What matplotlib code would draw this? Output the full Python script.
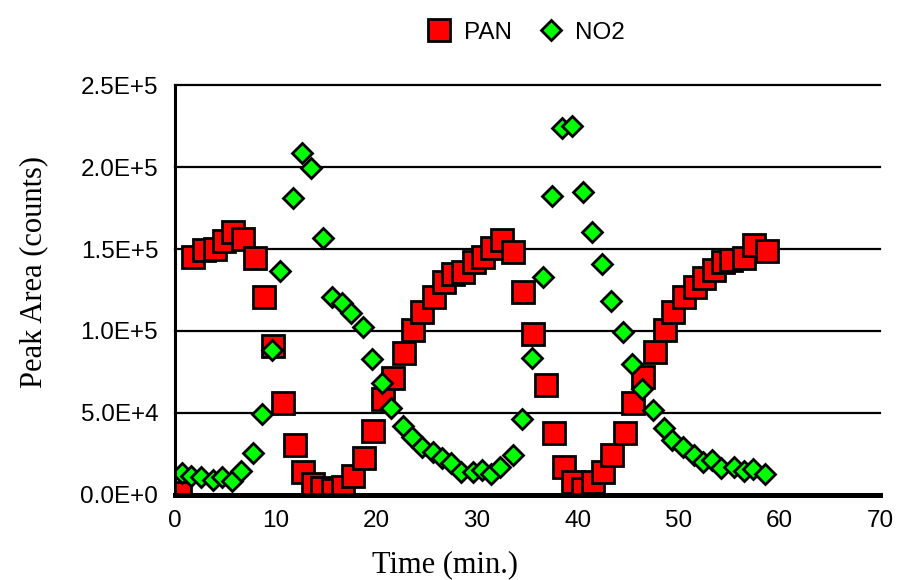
#!/usr/bin/env python3
"""PAN and NO2 peak areas versus time."""

import matplotlib
matplotlib.use("Agg")
import matplotlib.pyplot as plt

# PAN peak areas (counts) against time (min.)
pan_time = [0.50, 1.79, 2.88, 3.98, 4.87, 5.77, 6.76, 7.95, 8.85, 9.74,
            10.74, 11.93, 12.72, 13.72, 14.61, 15.71, 16.70, 17.69, 18.79, 19.68,
            20.68, 21.67, 22.76, 23.66, 24.55, 25.75, 26.74, 27.63, 28.63, 29.72,
            30.62, 31.51, 32.50, 33.60, 34.59, 35.59, 36.88, 37.67, 38.67, 39.56,
            40.56, 41.55, 42.54, 43.44, 44.73, 45.53, 46.52, 47.71, 48.61, 49.50,
            50.50, 51.59, 52.49, 53.48, 54.37, 55.17, 56.46, 57.46, 58.75]
pan_area = [1000, 145100, 149400, 150000, 154900, 160400, 156100, 144500, 120700, 90900,
            56100, 30500, 14000, 6700, 4300, 3000, 4900, 11600, 22600, 39000,
            58500, 71300, 86600, 100600, 111600, 120700, 129900, 134800, 136000, 142100,
            145100, 150600, 155500, 148200, 123800, 98200, 67100, 37800, 17100, 7900,
            3700, 7900, 14000, 24400, 37800, 56100, 72000, 87200, 100600, 111600,
            120700, 126800, 132300, 137200, 142100, 143300, 144500, 152400, 148800]

# NO2 peak areas (counts) against time (min.)
no2_time = [0.70, 1.59, 2.58, 3.78, 4.67, 5.67, 6.56, 7.75, 8.65, 9.64,
            10.44, 11.73, 12.62, 13.52, 14.71, 15.61, 16.60, 17.50, 18.69, 19.58,
            20.58, 21.47, 22.66, 23.56, 24.55, 25.65, 26.54, 27.44, 28.43, 29.62,
            30.52, 31.41, 32.31, 33.60, 34.49, 35.49, 36.58, 37.48, 38.47, 39.46,
            40.56, 41.45, 42.45, 43.34, 44.53, 45.43, 46.42, 47.51, 48.51, 49.40,
            50.40, 51.49, 52.39, 53.28, 54.17, 55.47, 56.46, 57.36, 58.55]
no2_area = [13400, 11600, 11000, 9100, 11000, 8500, 14600, 25600, 49400, 88400,
            136600, 181100, 208500, 199400, 156700, 120700, 117100, 111000, 102400, 82900,
            68300, 53000, 42100, 35400, 29300, 26200, 22600, 19500, 14000, 14000,
            15200, 12800, 17100, 24400, 46300, 83500, 132900, 182300, 223800, 225000,
            184800, 160400, 140900, 118300, 99400, 79900, 64600, 51800, 40900, 33500,
            29300, 24400, 20100, 21300, 16500, 17100, 14600, 15900, 12800]

x_ticks = [0, 10, 20, 30, 40, 50, 60, 70]
y_ticks = [0, 50000, 100000, 150000, 200000, 250000]
y_tick_labels = ["0.0E+0", "5.0E+4", "1.0E+5", "1.5E+5", "2.0E+5", "2.5E+5"]

sans = "Liberation Sans"
serif = "Liberation Serif"

fig = plt.figure(figsize=(8.97, 5.80), dpi=100)
ax = fig.add_axes([0.195, 0.147, 0.786, 0.706])

# horizontal grid lines (top one sits on the axes edge, so no clipping)
for yv in y_ticks[1:]:
    ax.axhline(yv, color="black", lw=1.6, zorder=1, clip_on=False)

ax.plot(pan_time, pan_area, ls="none", marker="s", ms=16.5, mfc="#ff0000",
        mec="black", mew=2.0, label="PAN", zorder=3)
ax.plot(no2_time, no2_area, ls="none", marker="D", ms=10.5, mfc="#00ff00",
        mec="black", mew=2.0, label="NO2", zorder=4)

ax.set_xlim(0, 70)
ax.set_ylim(0, 250000)
ax.set_xticks(x_ticks)
ax.set_yticks(y_ticks)
ax.set_yticklabels(y_tick_labels)
ax.tick_params(length=0, labelsize=17.5)
ax.tick_params(axis="y", pad=12)
ax.tick_params(axis="x", pad=11)
for lab in ax.get_xticklabels() + ax.get_yticklabels():
    lab.set_family(sans)

for side in ("top", "right"):
    ax.spines[side].set_visible(False)
ax.spines["left"].set_linewidth(2.2)
ax.spines["bottom"].set_linewidth(3.6)
ax.spines["left"].set_zorder(5)
ax.spines["bottom"].set_zorder(5)

# axis titles sit off-centre, as in the original spreadsheet chart
ax.set_xlabel("Time (min.)", family=serif, fontsize=22)
ax.xaxis.set_label_coords(0.383, -0.135)
ax.set_ylabel("Peak Area (counts)", family=serif, fontsize=22)
ax.yaxis.set_label_coords(-0.18, 0.544)

fig.legend(loc="upper center", bbox_to_anchor=(0.585, 1.0), ncol=2,
           frameon=False, prop={"family": sans, "size": 17.5},
           handletextpad=0.4, columnspacing=1.0, handlelength=1.2)

fig.savefig("out.png", dpi=100)
